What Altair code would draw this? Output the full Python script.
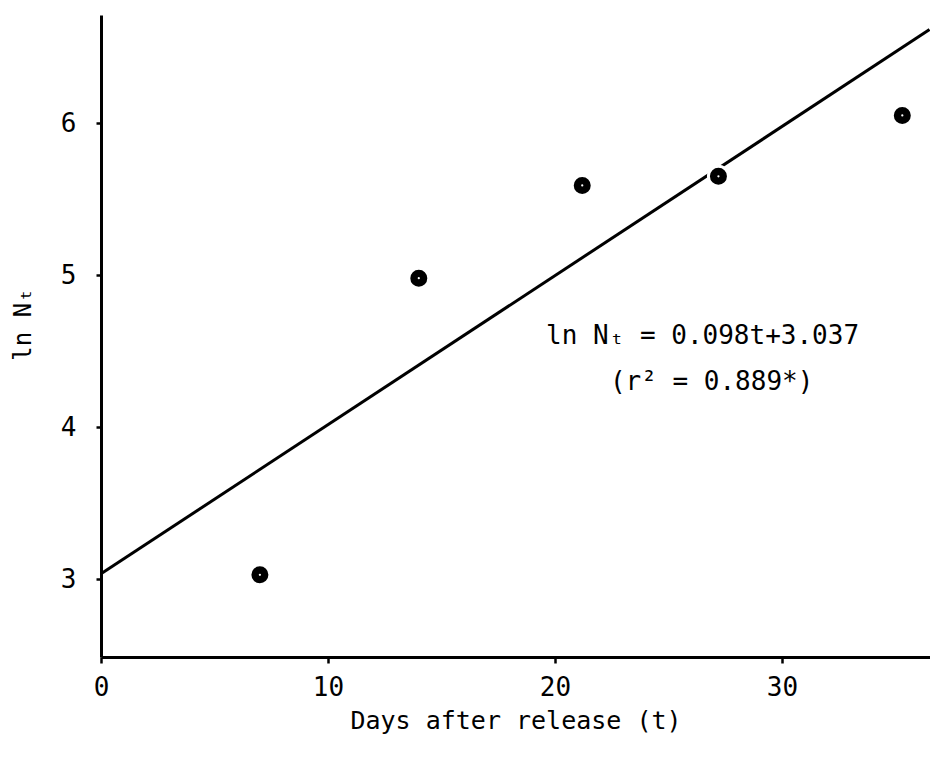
import altair as alt
import pandas as pd

# observed data
days = [7, 14, 21.2, 27.2, 35.3]
ln_nt = [3.03, 4.98, 5.59, 5.65, 6.05]

# regression line endpoints (ln Nt = 0.098t + 3.037)
line_t = [0, 36.5]
line_y = [3.037, 6.614]

# annotation
ann_text = ["ln Nₜ = 0.098t+3.037", "(r² = 0.889*)"]
ann_t = [26.5, 26.9]
ann_y = [4.60, 4.30]

x_ticks = [0, 10, 20, 30]
y_ticks = [3, 4, 5, 6]

FONT = "DejaVu Sans Mono"

pts = pd.DataFrame({"t": days, "y": ln_nt})
ln = pd.DataFrame({"t": line_t, "y": line_y})
ann = pd.DataFrame({"t": ann_t, "y": ann_y, "label": ann_text})

xs = alt.Scale(domain=[0, 36.52], nice=False, zero=False)
ys = alt.Scale(domain=[2.49, 6.71], nice=False, zero=False)

xax = alt.Axis(values=x_ticks, title="Days after release (t)", grid=False,
               domainWidth=3, domainColor="black", tickColor="black",
               tickWidth=2.5, tickSize=6, labelPadding=11, labelFlush=False,
               labelFont=FONT, labelFontSize=26, labelColor="black",
               titleFont=FONT, titleFontSize=25, titleFontWeight="normal",
               titleColor="black", titlePadding=8, format="d")
yax = alt.Axis(values=y_ticks, title="ln Nₜ", grid=False,
               domainWidth=3, domainColor="black", tickColor="black",
               tickWidth=2.5, tickSize=5, labelPadding=20, labelFlush=False,
               labelFont=FONT, labelFontSize=26, labelColor="black",
               titleFont=FONT, titleFontSize=24, titleFontWeight="normal",
               titleColor="black", titleX=-78, titleY=309, titleAngle=-90,
               titleAlign="center", titleBaseline="middle", format="d")

line = alt.Chart(ln).mark_line(color="black", strokeWidth=3).encode(
    x=alt.X("t:Q", scale=xs, axis=xax),
    y=alt.Y("y:Q", scale=ys, axis=yax),
)

dots = alt.Chart(pts).mark_point(filled=True, shape="circle", size=400,
                                 color="black", stroke="white",
                                 strokeWidth=3, opacity=1).encode(
    x=alt.X("t:Q", scale=xs),
    y=alt.Y("y:Q", scale=ys),
)

centers = alt.Chart(pts).mark_point(filled=True, shape="circle", size=5,
                                    color="white", opacity=1).encode(
    x=alt.X("t:Q", scale=xs),
    y=alt.Y("y:Q", scale=ys),
)

text = alt.Chart(ann).mark_text(font=FONT, fontSize=26, color="black",
                                align="center", baseline="middle").encode(
    x=alt.X("t:Q", scale=xs),
    y=alt.Y("y:Q", scale=ys),
    text="label:N",
)

chart = alt.layer(line, dots, centers, text).properties(
    width=829, height=642,
    autosize=alt.AutoSizeParams(type="none"),
    padding={"left": 93, "top": 7, "right": 0, "bottom": 93},
    background="white",
).configure_view(stroke=None)

chart.save("out.html", embed_options={"renderer": "svg", "actions": False})
